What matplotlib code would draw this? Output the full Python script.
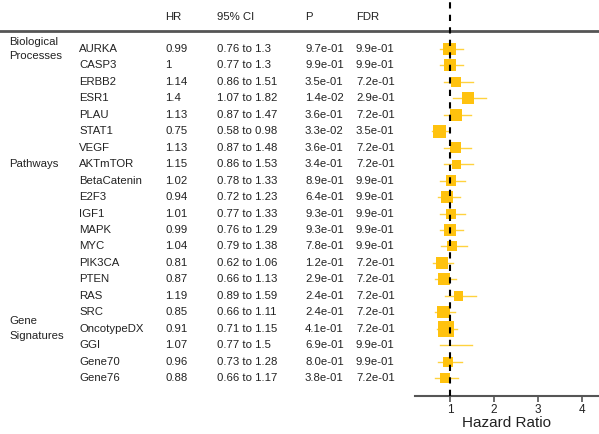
import numpy as np
import matplotlib
matplotlib.use('Agg')
from matplotlib import pyplot as plt
from matplotlib.transforms import blended_transform_factory

plt.rcParams['font.family'] = ['Liberation Sans', 'DejaVu Sans']

genes = ['AURKA', 'CASP3', 'ERBB2', 'ESR1', 'PLAU', 'STAT1', 'VEGF',
         'AKTmTOR', 'BetaCatenin', 'E2F3', 'IGF1', 'MAPK', 'MYC', 'PIK3CA',
         'PTEN', 'RAS', 'SRC', 'OncotypeDX', 'GGI', 'Gene70', 'Gene76']
hr = [0.99, 1, 1.14, 1.4, 1.13, 0.75, 1.13, 1.15, 1.02, 0.94, 1.01, 0.99,
      1.04, 0.81, 0.87, 1.19, 0.85, 0.91, 1.07, 0.96, 0.88]
lo = [0.76, 0.77, 0.86, 1.07, 0.87, 0.58, 0.87, 0.86, 0.78, 0.72, 0.77, 0.76,
      0.79, 0.62, 0.66, 0.89, 0.66, 0.71, 0.77, 0.73, 0.66]
hi = [1.3, 1.3, 1.51, 1.82, 1.47, 0.98, 1.48, 1.53, 1.33, 1.23, 1.33, 1.29,
      1.38, 1.06, 1.13, 1.59, 1.11, 1.15, 1.5, 1.28, 1.17]
pval = ['9.7e-01', '9.9e-01', '3.5e-01', '1.4e-02', '3.6e-01', '3.3e-02',
        '3.6e-01', '3.4e-01', '8.9e-01', '6.4e-01', '9.3e-01', '9.3e-01',
        '7.8e-01', '1.2e-01', '2.9e-01', '2.4e-01', '2.4e-01', '4.1e-01',
        '6.9e-01', '8.0e-01', '3.8e-01']
fdr = ['9.9e-01', '9.9e-01', '7.2e-01', '2.9e-01', '7.2e-01', '3.5e-01',
       '7.2e-01', '7.2e-01', '9.9e-01', '9.9e-01', '9.9e-01', '9.9e-01',
       '9.9e-01', '7.2e-01', '7.2e-01', '7.2e-01', '7.2e-01', '7.2e-01',
       '9.9e-01', '9.9e-01', '7.2e-01']
# relative box weight
weight = [0.80, 0.75, 0.62, 0.75, 0.75, 0.82, 0.68, 0.55, 0.65, 0.75, 0.62,
          0.75, 0.62, 0.75, 0.75, 0.62, 0.78, 1.0, 0.03, 0.62, 0.62]
groups = ['Biological\nProcesses', 'Pathways', 'Gene\nSignatures']
group_row = [0, 7, 17]
header = ['HR', '95% CI', 'P', 'FDR']

W, H = 599, 434
fig = plt.figure(figsize=(W / 100, H / 100), dpi=100)
ax = fig.add_axes([415 / W, 1 - 396 / H, 1 - 415 / W, 396 / H])

y = np.arange(len(genes))
gold = '#FFC20E'
for i in range(len(genes)):
    ax.plot([lo[i], hi[i]], [y[i], y[i]], color='#FFD23F', lw=1, zorder=2)
sizes = (np.array(weight) * 16 * 0.72) ** 2
ax.scatter(hr, y, s=sizes, marker='s', color=gold, edgecolors='none', zorder=3)
ax.axvline(1, color='black', ls=(0, (3, 3)), lw=1.5, zorder=4)

ax.set_xlim(0.2, 4.39)
ax.set_ylim(21.09, -2.98)
for s in ['top', 'right', 'left']:
    ax.spines[s].set_visible(False)
ax.spines['bottom'].set_color('#555555')
ax.spines['bottom'].set_linewidth(1.5)
ax.set_yticks([])
ax.set_xticks([1, 2, 3, 4])
ax.tick_params(axis='x', length=4, width=1.2, color='#555555', labelsize=8.5,
               labelcolor='#222222', pad=2)
ax.set_xlabel('Hazard Ratio', fontsize=11, labelpad=0, color='#222222')

# table on the left
tr = blended_transform_factory(fig.transFigure, ax.transData)
fs = 8.2
tc = '#222222'
cols = [165, 217, 305, 356]
for x, h in zip(cols, header):
    ax.text(x / W, -1.95, h, transform=tr, fontsize=fs, va='center', color=tc, clip_on=False)
ax.plot([0, 1], [-1.09, -1.09], transform=tr, color='#555555', lw=2, clip_on=False)
for i in range(len(genes)):
    row = [genes[i], f'{hr[i]:g}', f'{lo[i]:g} to {hi[i]:g}', pval[i], fdr[i]]
    for x, t in zip([79] + cols, row):
        ax.text(x / W, y[i], t, transform=tr, fontsize=fs, va='center', color=tc, clip_on=False)
for g, r in zip(groups, group_row):
    ax.text(9 / W, r, g, transform=tr, fontsize=fs, va='center', linespacing=1.6,
            color=tc, clip_on=False)

fig.savefig('out.png', dpi=100)
